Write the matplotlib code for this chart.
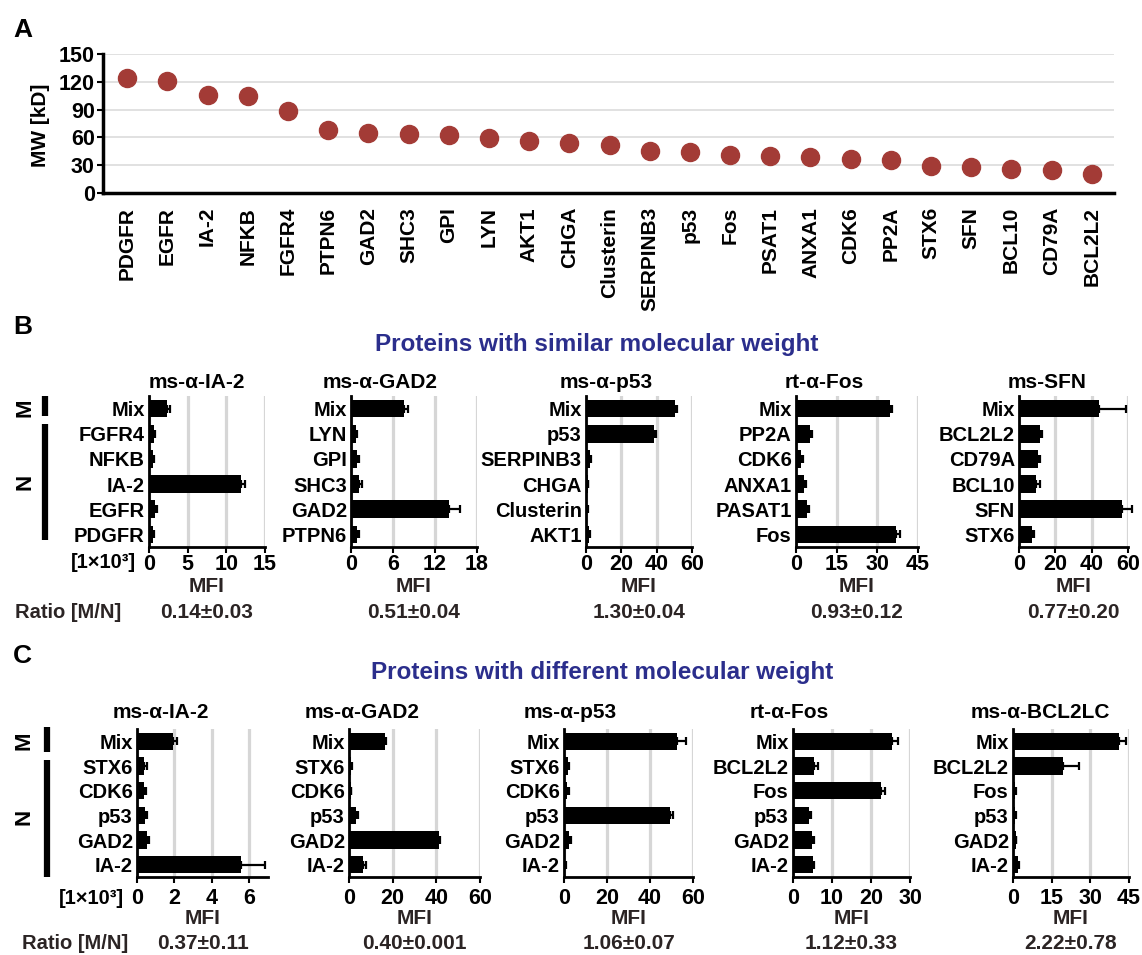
import numpy as np
import matplotlib
matplotlib.use("Agg")
import matplotlib.pyplot as plt
from matplotlib.lines import Line2D

plt.rcParams['font.family'] = ['Liberation Sans', 'DejaVu Sans']
plt.rcParams['font.weight'] = 'bold'

# ---- panel A data ----
proteins = ['PDGFR', 'EGFR', 'IA-2', 'NFKB', 'FGFR4', 'PTPN6', 'GAD2', 'SHC3', 'GPI',
            'LYN', 'AKT1', 'CHGA', 'Clusterin', 'SERPINB3', 'p53', 'Fos', 'PSAT1',
            'ANXA1', 'CDK6', 'PP2A', 'STX6', 'SFN', 'BCL10', 'CD79A', 'BCL2L2']
mw_kd = [124, 121, 106, 105, 88, 68, 65, 64, 63, 59, 56, 54, 52, 45, 44, 41, 40,
         39, 37, 36, 29, 28, 26, 25, 21]

# ---- panel B data (similar MW) ----
b_titles = ['ms-α-IA-2', 'ms-α-GAD2', 'ms-α-p53', 'rt-α-Fos', 'ms-SFN']
b_labels = [['Mix', 'FGFR4', 'NFKB', 'IA-2', 'EGFR', 'PDGFR'],
            ['Mix', 'LYN', 'GPI', 'SHC3', 'GAD2', 'PTPN6'],
            ['Mix', 'p53', 'SERPINB3', 'CHGA', 'Clusterin', 'AKT1'],
            ['Mix', 'PP2A', 'CDK6', 'ANXA1', 'PASAT1', 'Fos'],
            ['Mix', 'BCL2L2', 'CD79A', 'BCL10', 'SFN', 'STX6']]
b_mfi = [[2.3, 0.6, 0.5, 11.9, 0.8, 0.5],
         [7.6, 0.7, 0.9, 1.2, 14.0, 0.9],
         [50.5, 38.5, 2.0, 1.0, 0.8, 1.5],
         [34.5, 5.0, 2.0, 3.0, 4.0, 37.0],
         [44.0, 11.5, 10.5, 9.5, 56.5, 7.0]]
b_err = [[0.4, 0.2, 0.2, 0.5, 0.2, 0.1],
         [0.5, 0.2, 0.2, 0.3, 1.6, 0.3],
         [1.2, 1.2, 0.6, 0.4, 0.3, 0.5],
         [0.8, 0.8, 0.5, 0.6, 0.8, 1.2],
         [15.0, 1.2, 0.8, 1.8, 5.5, 1.5]]
b_xmax = [15, 18, 60, 45, 60]
b_xticks = [[0, 5, 10, 15], [0, 6, 12, 18], [0, 20, 40, 60], [0, 15, 30, 45], [0, 20, 40, 60]]
b_ratio = ['0.14±0.03', '0.51±0.04', '1.30±0.04', '0.93±0.12', '0.77±0.20']

# ---- panel C data (different MW) ----
c_titles = ['ms-α-IA-2', 'ms-α-GAD2', 'ms-α-p53', 'rt-α-Fos', 'ms-α-BCL2LC']
c_labels = [['Mix', 'STX6', 'CDK6', 'p53', 'GAD2', 'IA-2'],
            ['Mix', 'STX6', 'CDK6', 'p53', 'GAD2', 'IA-2'],
            ['Mix', 'STX6', 'CDK6', 'p53', 'GAD2', 'IA-2'],
            ['Mix', 'BCL2L2', 'Fos', 'p53', 'GAD2', 'IA-2'],
            ['Mix', 'BCL2L2', 'Fos', 'p53', 'GAD2', 'IA-2']]
c_mfi = [[1.95, 0.4, 0.4, 0.45, 0.55, 5.55],
         [16.3, 1.0, 0.8, 3.3, 41.0, 6.5],
         [52.5, 1.8, 1.5, 49.5, 2.5, 0.5],
         [25.3, 5.5, 22.6, 4.2, 4.8, 5.0],
         [41.3, 19.3, 0.8, 0.8, 1.0, 1.8]]
c_err = [[0.2, 0.15, 0.1, 0.1, 0.1, 1.3],
         [0.8, 0.3, 0.3, 0.6, 0.8, 1.2],
         [4.3, 0.6, 0.6, 1.2, 0.8, 0.2],
         [1.6, 1.0, 0.9, 0.5, 0.7, 0.5],
         [2.6, 6.2, 0.3, 0.3, 0.3, 0.6]]
c_xmax = [7, 60, 60, 30, 45]
c_xticks = [[0, 2, 4, 6], [0, 20, 40, 60], [0, 20, 40, 60], [0, 10, 20, 30], [0, 15, 30, 45]]
c_ratio = ['0.37±0.11', '0.40±0.001', '1.06±0.07', '1.12±0.33', '2.22±0.78']

W, H = 1142, 955
fig = plt.figure(figsize=(W / 100, H / 100), dpi=100)
NAVY = '#2B2E8C'
DOT = '#A33B36'
GRID = '#D6D6D6'
DARK = '#2b2424'


def box(l, t, r, b):
    return [l / W, 1 - b / H, (r - l) / W, (b - t) / H]


def ftext(x, y, s, **kw):
    fig.text(x / W, 1 - y / H, s, **kw)


def vline(x, y0, y1, lw=4.5):
    fig.add_artist(Line2D([x / W, x / W], [1 - y0 / H, 1 - y1 / H], color='black',
                          lw=lw, solid_capstyle='butt'))


# ---------------- A ----------------
axA = fig.add_axes(box(103, 54, 1114, 193))
xs = np.arange(len(proteins))
axA.plot(xs, mw_kd, 'o', ms=13, color=DOT, ls='none', zorder=3)
axA.set_ylim(0, 150)
axA.set_xlim(-0.6, len(proteins) - 0.45)
axA.set_yticks(range(0, 151, 30))
axA.set_xticks(xs)
axA.set_xticklabels(proteins, rotation=90, fontsize=15)
axA.tick_params(axis='x', length=0, pad=10)
axA.tick_params(axis='y', length=4, width=1.5, labelsize=15.5, pad=2)
axA.grid(axis='y', color='#DEDEDE', lw=1.3)
axA.set_axisbelow(True)
for s in ['top', 'right']:
    axA.spines[s].set_visible(False)
for s in ['left', 'bottom']:
    axA.spines[s].set_linewidth(2.5)
ftext(40, 125, 'MW [kD]', rotation=90, ha='center', va='center', fontsize=15)
ftext(13, 30, 'A', fontsize=19, ha='left', va='center')


def bar_row(titles, labels, mfi, err, xmax, xticks, ratios, lefts, rights,
            top, bottom, title_x, title_y, tick_pad, mfi_y, ratio_y):
    for i in range(5):
        ax = fig.add_axes(box(lefts[i], top, rights[i], bottom))
        y = np.arange(len(labels[i]))
        ax.barh(y, mfi[i], height=0.7, color='black', zorder=2)
        eb = ax.errorbar(mfi[i], y, xerr=[np.zeros(len(y)), err[i]], fmt='none',
                         ecolor='black', elinewidth=1.6, capsize=3, capthick=1.6, zorder=3)
        for art in list(eb.lines[1]) + list(eb.lines[2]):
            art.set_clip_on(False)
        ax.set_ylim(len(y) - 0.5, -0.5)
        ax.set_xlim(0, xmax[i])
        ax.set_xticks(xticks[i])
        ax.set_yticks(y)
        ax.set_yticklabels(labels[i], fontsize=14.5)
        ax.tick_params(axis='y', length=0, pad=3)
        ax.tick_params(axis='x', length=4, width=1.5, labelsize=15.5, pad=tick_pad)
        ax.grid(axis='x', color=GRID, lw=2.3)
        ax.set_axisbelow(True)
        for s in ['top', 'right']:
            ax.spines[s].set_visible(False)
        for s in ['left', 'bottom']:
            ax.spines[s].set_linewidth(2)
        cx = (lefts[i] + rights[i]) / 2
        ftext(title_x[i], title_y, titles[i], ha='center', va='center', fontsize=15)
        ftext(cx, mfi_y, 'MFI', ha='center', va='center', fontsize=15, color=DARK)
        ftext(cx, ratio_y, ratios[i], ha='center', va='center', fontsize=15, color=DARK)


# ---------------- B ----------------
ftext(13, 327, 'B', fontsize=19, ha='left', va='center')
ftext(597, 344, 'Proteins with similar molecular weight', color=NAVY,
      fontsize=17.5, ha='center', va='center')
bar_row(b_titles, b_labels, b_mfi, b_err, b_xmax, b_xticks, b_ratio,
        [149, 351, 586, 796, 1019], [265, 477, 692, 918, 1128],
        396, 547, [197, 380, 606, 824, 1047], 383, 1, 587, 612)
ftext(136, 563, '[1×10³]', ha='right', va='center', fontsize=14.5)
ftext(15, 612, 'Ratio [M/N]', ha='left', va='center', fontsize=14.5, color=DARK)
ftext(25, 408, 'M', rotation=90, ha='center', va='center', fontsize=16)
ftext(25, 482, 'N', rotation=90, ha='center', va='center', fontsize=16)
vline(45, 396, 416)
vline(45, 424, 540)

# ---------------- C ----------------
ftext(13, 656, 'C', fontsize=19, ha='left', va='center')
ftext(602, 672, 'Proteins with different molecular weight', color=NAVY,
      fontsize=17.5, ha='center', va='center')
bar_row(c_titles, c_labels, c_mfi, c_err, c_xmax, c_xticks, c_ratio,
        [137, 349, 564, 793, 1013], [268, 480, 693, 910, 1129],
        729, 877, [161, 362, 570, 789, 1040], 712, 4, 918, 943)
ftext(124, 898, '[1×10³]', ha='right', va='center', fontsize=14.5)
ftext(22, 943, 'Ratio [M/N]', ha='left', va='center', fontsize=14.5, color=DARK)
ftext(24, 741, 'M', rotation=90, ha='center', va='center', fontsize=16)
ftext(24, 817, 'N', rotation=90, ha='center', va='center', fontsize=16)
vline(47, 727, 752)
vline(47, 760, 877)

fig.savefig('out.png', dpi=100)
